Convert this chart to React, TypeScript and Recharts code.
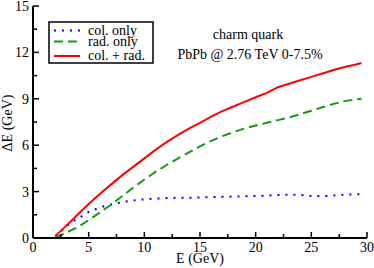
import { Customized, Legend, Line, LineChart, XAxis, YAxis } from "recharts";

const energies = [2, 2.5, 3, 3.5, 4, 5, 6, 7, 8, 9, 10, 11, 12, 13, 14, 15, 16, 17, 18, 19, 20, 21, 22, 23, 24, 25, 26, 27, 28, 29, 29.5];
const colOnly = [0.12, 0.42, 0.75, 1.05, 1.25, 1.68, 1.97, 2.17, 2.33, 2.43, 2.5, 2.55, 2.58, 2.6, 2.6, 2.62, 2.64, 2.66, 2.68, 2.7, 2.72, 2.74, 2.78, 2.8, 2.78, 2.72, 2.7, 2.75, 2.8, 2.82, 2.84];
const radOnly = [0.05, 0.18, 0.35, 0.52, 0.7, 1.15, 1.65, 2.15, 2.7, 3.25, 3.78, 4.27, 4.72, 5.13, 5.53, 5.92, 6.28, 6.58, 6.85, 7.08, 7.27, 7.45, 7.62, 7.8, 8.0, 8.23, 8.45, 8.67, 8.85, 8.97, 9.0];
const colRad = [0.12, 0.46, 0.8, 1.15, 1.5, 2.2, 2.85, 3.45, 4.05, 4.6, 5.15, 5.7, 6.2, 6.65, 7.07, 7.45, 7.85, 8.2, 8.5, 8.8, 9.1, 9.38, 9.75, 9.97, 10.2, 10.42, 10.64, 10.86, 11.05, 11.22, 11.32];

const xTicks = [0, 2.5, 5, 7.5, 10, 12.5, 15, 17.5, 20, 22.5, 25, 27.5, 30];
const yTicks = [0, 1.5, 3, 4.5, 6, 7.5, 9, 10.5, 12, 13.5, 15];

const series = [
  { key: "col", name: "col. only", color: "#0000ff", dash: "2 6" },
  { key: "rad", name: "rad. only", color: "#129a12", dash: "9 5" },
  { key: "both", name: "col. + rad.", color: "#ff0000", dash: undefined as string | undefined },
];

const data = energies.map((e, i) => ({ e, col: colOnly[i], rad: radOnly[i], both: colRad[i] }));

const FONT = "'Liberation Serif', 'DejaVu Serif', serif";

const isMajor = (v: number, step: number) => Math.abs(v / step - Math.round(v / step)) < 1e-6;

const BottomTick = (p: any) => {
  const v = p.payload.value;
  const major = isMajor(v, 5);
  return (
    <g>
      <line x1={p.x} x2={p.x} y1={p.y} y2={p.y - (major ? 6 : 4)} stroke="#000" strokeWidth={1.5} />
      {major && (
        <text x={p.x} y={p.y + 14} textAnchor="middle" fontSize={14} style={{ fontFamily: FONT }} fill="#000">
          {v}
        </text>
      )}
    </g>
  );
};

const TopTick = (p: any) => {
  const major = isMajor(p.payload.value, 5);
  return <line x1={p.x} x2={p.x} y1={p.y} y2={p.y + (major ? 6 : 4)} stroke="#000" strokeWidth={1.5} />;
};

const LeftTick = (p: any) => {
  const v = p.payload.value;
  const major = isMajor(v, 3);
  return (
    <g>
      <line x1={p.x} x2={p.x + (major ? 6 : 4)} y1={p.y} y2={p.y} stroke="#000" strokeWidth={1.5} />
      {major && (
        <text x={p.x - 4} y={p.y + 5} textAnchor="end" fontSize={14} style={{ fontFamily: FONT }} fill="#000">
          {v}
        </text>
      )}
    </g>
  );
};

const RightTick = (p: any) => {
  const major = isMajor(p.payload.value, 3);
  return <line x1={p.x} x2={p.x - (major ? 6 : 4)} y1={p.y} y2={p.y} stroke="#000" strokeWidth={1.5} />;
};

const legendRows = [
  { line: 9.5, text: 13.5 },
  { line: 20.5, text: 25 },
  { line: 35, text: 39 },
];

const renderLegend = () => (
  <svg width={108} height={44} style={{ display: "block" }}>
    <rect x={1} y={1} width={104} height={41} fill="#fff" stroke="#000" strokeWidth={1.5} />
    {series.map((s, i) => (
      <g key={s.key}>
        <line x1={6} x2={32} y1={legendRows[i].line} y2={legendRows[i].line} stroke={s.color} strokeWidth={2} strokeDasharray={s.dash} />
        <text x={40} y={legendRows[i].text} fontSize={14} style={{ fontFamily: FONT }} fill="#000">
          {s.name}
        </text>
      </g>
    ))}
  </svg>
);

const Annotations = () => (
  <g fontSize={14} fill="#000" style={{ fontFamily: FONT }}>
    <text x={248} y={38.5} textAnchor="middle">charm quark</text>
    <text x={250} y={59} textAnchor="middle">PbPb @ 2.76 TeV 0-7.5%</text>
    <text x={200} y={263} textAnchor="middle">E (GeV)</text>
    <text x={12} y={123} textAnchor="middle" transform="rotate(-90 12 123)">ΔE (GeV)</text>
  </g>
);

export default function App() {
  return (
    <div style={{ position: "absolute", left: 0, top: 0, width: 374, height: 268, background: "#fff", fontFamily: FONT }}>
      <LineChart width={374} height={268} data={data} margin={{ top: 6, right: 7, left: 0, bottom: 0 }}>
        <XAxis
          dataKey="e"
          type="number"
          domain={[0, 30]}
          ticks={xTicks}
          allowDataOverflow
          height={30}
          tickLine={false}
          tickSize={0}
          tickMargin={0}
          tick={BottomTick}
          axisLine={{ stroke: "#000", strokeWidth: 2 }}
          interval={0}
        />
        <XAxis
          xAxisId="top"
          orientation="top"
          dataKey="e"
          type="number"
          domain={[0, 30]}
          ticks={xTicks}
          allowDataOverflow
          height={0}
          tickLine={false}
          tickSize={0}
          tickMargin={0}
          tick={TopTick}
          axisLine={{ stroke: "#000", strokeWidth: 2 }}
          interval={0}
        />
        <YAxis
          type="number"
          domain={[0, 15]}
          ticks={yTicks}
          allowDataOverflow
          width={33}
          tickLine={false}
          tickSize={0}
          tickMargin={0}
          tick={LeftTick}
          axisLine={{ stroke: "#000", strokeWidth: 2 }}
          interval={0}
        />
        <YAxis
          yAxisId="right"
          orientation="right"
          type="number"
          domain={[0, 15]}
          ticks={yTicks}
          allowDataOverflow
          width={0}
          tickLine={false}
          tickSize={0}
          tickMargin={0}
          tick={RightTick}
          axisLine={{ stroke: "#000", strokeWidth: 2 }}
          interval={0}
        />
        {series.map(s => (
          <Line
            key={s.key}
            dataKey={s.key}
            name={s.name}
            type="linear"
            stroke={s.color}
            strokeWidth={2}
            strokeDasharray={s.dash}
            dot={false}
            activeDot={false}
            isAnimationActive={false}
          />
        ))}
        <Legend
          layout="vertical"
          align="center"
          verticalAlign="middle"
          content={renderLegend}
          wrapperStyle={{ left: 48, top: 21, width: 108, height: 44 }}
        />
        <Customized component={Annotations} />
      </LineChart>
    </div>
  );
}
